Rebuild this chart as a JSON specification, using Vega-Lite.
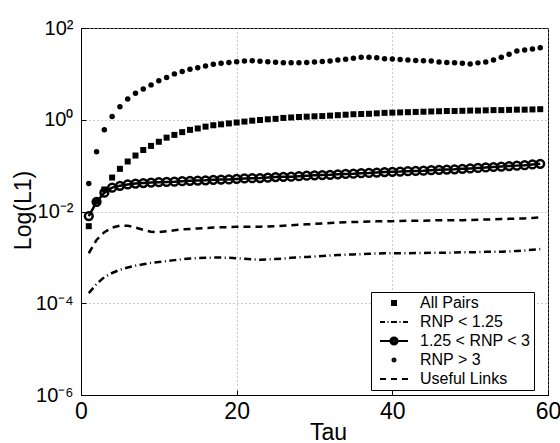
{
  "$schema": "https://vega.github.io/schema/vega-lite/v6.json",
  "width": 467,
  "height": 367,
  "autosize": {"type": "none"},
  "padding": {"left": 81, "top": 28, "right": 12, "bottom": 48},
  "background": "white",
  "config": {
    "view": {"stroke": "black", "strokeWidth": 1},
    "axis": {
      "domainColor": "black", "tickColor": "black", "labelColor": "black", "titleColor": "black",
      "labelFont": "Liberation Sans", "titleFont": "Liberation Sans", "titleFontWeight": "normal",
      "grid": true, "gridColor": "#999999", "gridDash": [1, 3], "tickSize": -5
    }
  },
  "data": {"values": [
    {"tau":1,"series":"All Pairs","log10_L1":-2.32},{"tau":2,"series":"All Pairs","log10_L1":-1.77},{"tau":3,"series":"All Pairs","log10_L1":-1.52},{"tau":4,"series":"All Pairs","log10_L1":-1.26},{"tau":5,"series":"All Pairs","log10_L1":-1.07},{"tau":6,"series":"All Pairs","log10_L1":-0.91},{"tau":7,"series":"All Pairs","log10_L1":-0.78},{"tau":8,"series":"All Pairs","log10_L1":-0.66},{"tau":9,"series":"All Pairs","log10_L1":-0.57},{"tau":10,"series":"All Pairs","log10_L1":-0.48},
    {"tau":11,"series":"All Pairs","log10_L1":-0.39},{"tau":12,"series":"All Pairs","log10_L1":-0.33},{"tau":13,"series":"All Pairs","log10_L1":-0.27},{"tau":14,"series":"All Pairs","log10_L1":-0.22},{"tau":15,"series":"All Pairs","log10_L1":-0.19},{"tau":16,"series":"All Pairs","log10_L1":-0.15},{"tau":17,"series":"All Pairs","log10_L1":-0.12},{"tau":18,"series":"All Pairs","log10_L1":-0.10},{"tau":19,"series":"All Pairs","log10_L1":-0.08},{"tau":20,"series":"All Pairs","log10_L1":-0.06},
    {"tau":21,"series":"All Pairs","log10_L1":-0.04},{"tau":22,"series":"All Pairs","log10_L1":-0.02},{"tau":23,"series":"All Pairs","log10_L1":-0.005},{"tau":24,"series":"All Pairs","log10_L1":0.01},{"tau":25,"series":"All Pairs","log10_L1":0.02},{"tau":26,"series":"All Pairs","log10_L1":0.04},{"tau":27,"series":"All Pairs","log10_L1":0.05},{"tau":28,"series":"All Pairs","log10_L1":0.06},{"tau":29,"series":"All Pairs","log10_L1":0.067},{"tau":30,"series":"All Pairs","log10_L1":0.075},
    {"tau":31,"series":"All Pairs","log10_L1":0.08},{"tau":32,"series":"All Pairs","log10_L1":0.09},{"tau":33,"series":"All Pairs","log10_L1":0.10},{"tau":34,"series":"All Pairs","log10_L1":0.11},{"tau":35,"series":"All Pairs","log10_L1":0.12},{"tau":36,"series":"All Pairs","log10_L1":0.125},{"tau":37,"series":"All Pairs","log10_L1":0.13},{"tau":38,"series":"All Pairs","log10_L1":0.14},{"tau":39,"series":"All Pairs","log10_L1":0.15},{"tau":40,"series":"All Pairs","log10_L1":0.155},
    {"tau":41,"series":"All Pairs","log10_L1":0.16},{"tau":42,"series":"All Pairs","log10_L1":0.165},{"tau":43,"series":"All Pairs","log10_L1":0.17},{"tau":44,"series":"All Pairs","log10_L1":0.175},{"tau":45,"series":"All Pairs","log10_L1":0.18},{"tau":46,"series":"All Pairs","log10_L1":0.185},{"tau":47,"series":"All Pairs","log10_L1":0.19},{"tau":48,"series":"All Pairs","log10_L1":0.19},{"tau":49,"series":"All Pairs","log10_L1":0.195},{"tau":50,"series":"All Pairs","log10_L1":0.20},
    {"tau":51,"series":"All Pairs","log10_L1":0.20},{"tau":52,"series":"All Pairs","log10_L1":0.205},{"tau":53,"series":"All Pairs","log10_L1":0.21},{"tau":54,"series":"All Pairs","log10_L1":0.21},{"tau":55,"series":"All Pairs","log10_L1":0.215},{"tau":56,"series":"All Pairs","log10_L1":0.22},{"tau":57,"series":"All Pairs","log10_L1":0.22},{"tau":58,"series":"All Pairs","log10_L1":0.225},{"tau":59,"series":"All Pairs","log10_L1":0.23},

    {"tau":1,"series":"RNP < 1.25","log10_L1":-3.78},{"tau":2,"series":"RNP < 1.25","log10_L1":-3.58},{"tau":3,"series":"RNP < 1.25","log10_L1":-3.43},{"tau":4,"series":"RNP < 1.25","log10_L1":-3.34},{"tau":5,"series":"RNP < 1.25","log10_L1":-3.27},{"tau":6,"series":"RNP < 1.25","log10_L1":-3.22},{"tau":7,"series":"RNP < 1.25","log10_L1":-3.18},{"tau":8,"series":"RNP < 1.25","log10_L1":-3.15},{"tau":9,"series":"RNP < 1.25","log10_L1":-3.12},{"tau":10,"series":"RNP < 1.25","log10_L1":-3.10},
    {"tau":11,"series":"RNP < 1.25","log10_L1":-3.08},{"tau":12,"series":"RNP < 1.25","log10_L1":-3.06},{"tau":13,"series":"RNP < 1.25","log10_L1":-3.04},{"tau":14,"series":"RNP < 1.25","log10_L1":-3.025},{"tau":15,"series":"RNP < 1.25","log10_L1":-3.015},{"tau":16,"series":"RNP < 1.25","log10_L1":-3.01},{"tau":17,"series":"RNP < 1.25","log10_L1":-3.005},{"tau":18,"series":"RNP < 1.25","log10_L1":-3.005},{"tau":19,"series":"RNP < 1.25","log10_L1":-3.01},{"tau":20,"series":"RNP < 1.25","log10_L1":-3.02},
    {"tau":21,"series":"RNP < 1.25","log10_L1":-3.03},{"tau":22,"series":"RNP < 1.25","log10_L1":-3.045},{"tau":23,"series":"RNP < 1.25","log10_L1":-3.05},{"tau":24,"series":"RNP < 1.25","log10_L1":-3.045},{"tau":25,"series":"RNP < 1.25","log10_L1":-3.035},{"tau":26,"series":"RNP < 1.25","log10_L1":-3.025},{"tau":27,"series":"RNP < 1.25","log10_L1":-3.01},{"tau":28,"series":"RNP < 1.25","log10_L1":-3.0},{"tau":29,"series":"RNP < 1.25","log10_L1":-2.99},{"tau":30,"series":"RNP < 1.25","log10_L1":-2.98},
    {"tau":31,"series":"RNP < 1.25","log10_L1":-2.97},{"tau":32,"series":"RNP < 1.25","log10_L1":-2.96},{"tau":33,"series":"RNP < 1.25","log10_L1":-2.95},{"tau":34,"series":"RNP < 1.25","log10_L1":-2.94},{"tau":35,"series":"RNP < 1.25","log10_L1":-2.935},{"tau":36,"series":"RNP < 1.25","log10_L1":-2.93},{"tau":37,"series":"RNP < 1.25","log10_L1":-2.92},{"tau":38,"series":"RNP < 1.25","log10_L1":-2.915},{"tau":39,"series":"RNP < 1.25","log10_L1":-2.91},{"tau":40,"series":"RNP < 1.25","log10_L1":-2.91},
    {"tau":41,"series":"RNP < 1.25","log10_L1":-2.91},{"tau":42,"series":"RNP < 1.25","log10_L1":-2.91},{"tau":43,"series":"RNP < 1.25","log10_L1":-2.905},{"tau":44,"series":"RNP < 1.25","log10_L1":-2.905},{"tau":45,"series":"RNP < 1.25","log10_L1":-2.90},{"tau":46,"series":"RNP < 1.25","log10_L1":-2.90},{"tau":47,"series":"RNP < 1.25","log10_L1":-2.90},{"tau":48,"series":"RNP < 1.25","log10_L1":-2.895},{"tau":49,"series":"RNP < 1.25","log10_L1":-2.89},{"tau":50,"series":"RNP < 1.25","log10_L1":-2.89},
    {"tau":51,"series":"RNP < 1.25","log10_L1":-2.885},{"tau":52,"series":"RNP < 1.25","log10_L1":-2.88},{"tau":53,"series":"RNP < 1.25","log10_L1":-2.88},{"tau":54,"series":"RNP < 1.25","log10_L1":-2.875},{"tau":55,"series":"RNP < 1.25","log10_L1":-2.87},{"tau":56,"series":"RNP < 1.25","log10_L1":-2.86},{"tau":57,"series":"RNP < 1.25","log10_L1":-2.85},{"tau":58,"series":"RNP < 1.25","log10_L1":-2.835},{"tau":59,"series":"RNP < 1.25","log10_L1":-2.82},

    {"tau":1,"series":"1.25 < RNP < 3","log10_L1":-2.10},{"tau":2,"series":"1.25 < RNP < 3","log10_L1":-1.79},{"tau":3,"series":"1.25 < RNP < 3","log10_L1":-1.59},{"tau":4,"series":"1.25 < RNP < 3","log10_L1":-1.48},{"tau":5,"series":"1.25 < RNP < 3","log10_L1":-1.44},{"tau":6,"series":"1.25 < RNP < 3","log10_L1":-1.41},{"tau":7,"series":"1.25 < RNP < 3","log10_L1":-1.39},{"tau":8,"series":"1.25 < RNP < 3","log10_L1":-1.38},{"tau":9,"series":"1.25 < RNP < 3","log10_L1":-1.37},{"tau":10,"series":"1.25 < RNP < 3","log10_L1":-1.36},
    {"tau":11,"series":"1.25 < RNP < 3","log10_L1":-1.355},{"tau":12,"series":"1.25 < RNP < 3","log10_L1":-1.35},{"tau":13,"series":"1.25 < RNP < 3","log10_L1":-1.34},{"tau":14,"series":"1.25 < RNP < 3","log10_L1":-1.33},{"tau":15,"series":"1.25 < RNP < 3","log10_L1":-1.325},{"tau":16,"series":"1.25 < RNP < 3","log10_L1":-1.32},{"tau":17,"series":"1.25 < RNP < 3","log10_L1":-1.31},{"tau":18,"series":"1.25 < RNP < 3","log10_L1":-1.305},{"tau":19,"series":"1.25 < RNP < 3","log10_L1":-1.30},{"tau":20,"series":"1.25 < RNP < 3","log10_L1":-1.29},
    {"tau":21,"series":"1.25 < RNP < 3","log10_L1":-1.28},{"tau":22,"series":"1.25 < RNP < 3","log10_L1":-1.275},{"tau":23,"series":"1.25 < RNP < 3","log10_L1":-1.27},{"tau":24,"series":"1.25 < RNP < 3","log10_L1":-1.26},{"tau":25,"series":"1.25 < RNP < 3","log10_L1":-1.25},{"tau":26,"series":"1.25 < RNP < 3","log10_L1":-1.245},{"tau":27,"series":"1.25 < RNP < 3","log10_L1":-1.24},{"tau":28,"series":"1.25 < RNP < 3","log10_L1":-1.23},{"tau":29,"series":"1.25 < RNP < 3","log10_L1":-1.22},{"tau":30,"series":"1.25 < RNP < 3","log10_L1":-1.21},
    {"tau":31,"series":"1.25 < RNP < 3","log10_L1":-1.205},{"tau":32,"series":"1.25 < RNP < 3","log10_L1":-1.20},{"tau":33,"series":"1.25 < RNP < 3","log10_L1":-1.19},{"tau":34,"series":"1.25 < RNP < 3","log10_L1":-1.18},{"tau":35,"series":"1.25 < RNP < 3","log10_L1":-1.175},{"tau":36,"series":"1.25 < RNP < 3","log10_L1":-1.165},{"tau":37,"series":"1.25 < RNP < 3","log10_L1":-1.16},{"tau":38,"series":"1.25 < RNP < 3","log10_L1":-1.15},{"tau":39,"series":"1.25 < RNP < 3","log10_L1":-1.14},{"tau":40,"series":"1.25 < RNP < 3","log10_L1":-1.135},
    {"tau":41,"series":"1.25 < RNP < 3","log10_L1":-1.13},{"tau":42,"series":"1.25 < RNP < 3","log10_L1":-1.12},{"tau":43,"series":"1.25 < RNP < 3","log10_L1":-1.115},{"tau":44,"series":"1.25 < RNP < 3","log10_L1":-1.11},{"tau":45,"series":"1.25 < RNP < 3","log10_L1":-1.10},{"tau":46,"series":"1.25 < RNP < 3","log10_L1":-1.09},{"tau":47,"series":"1.25 < RNP < 3","log10_L1":-1.085},{"tau":48,"series":"1.25 < RNP < 3","log10_L1":-1.08},{"tau":49,"series":"1.25 < RNP < 3","log10_L1":-1.07},{"tau":50,"series":"1.25 < RNP < 3","log10_L1":-1.06},
    {"tau":51,"series":"1.25 < RNP < 3","log10_L1":-1.05},{"tau":52,"series":"1.25 < RNP < 3","log10_L1":-1.04},{"tau":53,"series":"1.25 < RNP < 3","log10_L1":-1.03},{"tau":54,"series":"1.25 < RNP < 3","log10_L1":-1.02},{"tau":55,"series":"1.25 < RNP < 3","log10_L1":-1.01},{"tau":56,"series":"1.25 < RNP < 3","log10_L1":-1.00},{"tau":57,"series":"1.25 < RNP < 3","log10_L1":-0.99},{"tau":58,"series":"1.25 < RNP < 3","log10_L1":-0.975},{"tau":59,"series":"1.25 < RNP < 3","log10_L1":-0.96},

    {"tau":1,"series":"RNP > 3","log10_L1":-1.39},{"tau":2,"series":"RNP > 3","log10_L1":-0.70},{"tau":3,"series":"RNP > 3","log10_L1":-0.22},{"tau":4,"series":"RNP > 3","log10_L1":0.07},{"tau":5,"series":"RNP > 3","log10_L1":0.285},{"tau":6,"series":"RNP > 3","log10_L1":0.45},{"tau":7,"series":"RNP > 3","log10_L1":0.58},{"tau":8,"series":"RNP > 3","log10_L1":0.67},{"tau":9,"series":"RNP > 3","log10_L1":0.76},{"tau":10,"series":"RNP > 3","log10_L1":0.85},
    {"tau":11,"series":"RNP > 3","log10_L1":0.92},{"tau":12,"series":"RNP > 3","log10_L1":1.00},{"tau":13,"series":"RNP > 3","log10_L1":1.05},{"tau":14,"series":"RNP > 3","log10_L1":1.10},{"tau":15,"series":"RNP > 3","log10_L1":1.135},{"tau":16,"series":"RNP > 3","log10_L1":1.17},{"tau":17,"series":"RNP > 3","log10_L1":1.21},{"tau":18,"series":"RNP > 3","log10_L1":1.23},{"tau":19,"series":"RNP > 3","log10_L1":1.25},{"tau":20,"series":"RNP > 3","log10_L1":1.266},
    {"tau":21,"series":"RNP > 3","log10_L1":1.28},{"tau":22,"series":"RNP > 3","log10_L1":1.288},{"tau":23,"series":"RNP > 3","log10_L1":1.273},{"tau":24,"series":"RNP > 3","log10_L1":1.266},{"tau":25,"series":"RNP > 3","log10_L1":1.251},{"tau":26,"series":"RNP > 3","log10_L1":1.244},{"tau":27,"series":"RNP > 3","log10_L1":1.244},{"tau":28,"series":"RNP > 3","log10_L1":1.244},{"tau":29,"series":"RNP > 3","log10_L1":1.25},{"tau":30,"series":"RNP > 3","log10_L1":1.26},
    {"tau":31,"series":"RNP > 3","log10_L1":1.27},{"tau":32,"series":"RNP > 3","log10_L1":1.28},{"tau":33,"series":"RNP > 3","log10_L1":1.30},{"tau":34,"series":"RNP > 3","log10_L1":1.32},{"tau":35,"series":"RNP > 3","log10_L1":1.34},{"tau":36,"series":"RNP > 3","log10_L1":1.36},{"tau":37,"series":"RNP > 3","log10_L1":1.36},{"tau":38,"series":"RNP > 3","log10_L1":1.35},{"tau":39,"series":"RNP > 3","log10_L1":1.33},{"tau":40,"series":"RNP > 3","log10_L1":1.325},
    {"tau":41,"series":"RNP > 3","log10_L1":1.315},{"tau":42,"series":"RNP > 3","log10_L1":1.30},{"tau":43,"series":"RNP > 3","log10_L1":1.29},{"tau":44,"series":"RNP > 3","log10_L1":1.288},{"tau":45,"series":"RNP > 3","log10_L1":1.28},{"tau":46,"series":"RNP > 3","log10_L1":1.26},{"tau":47,"series":"RNP > 3","log10_L1":1.25},{"tau":48,"series":"RNP > 3","log10_L1":1.244},{"tau":49,"series":"RNP > 3","log10_L1":1.23},{"tau":50,"series":"RNP > 3","log10_L1":1.215},
    {"tau":51,"series":"RNP > 3","log10_L1":1.24},{"tau":52,"series":"RNP > 3","log10_L1":1.26},{"tau":53,"series":"RNP > 3","log10_L1":1.30},{"tau":54,"series":"RNP > 3","log10_L1":1.36},{"tau":55,"series":"RNP > 3","log10_L1":1.43},{"tau":56,"series":"RNP > 3","log10_L1":1.50},{"tau":57,"series":"RNP > 3","log10_L1":1.52},{"tau":58,"series":"RNP > 3","log10_L1":1.54},{"tau":59,"series":"RNP > 3","log10_L1":1.57},

    {"tau":1,"series":"Useful Links","log10_L1":-2.91},{"tau":2,"series":"Useful Links","log10_L1":-2.62},{"tau":3,"series":"Useful Links","log10_L1":-2.45},{"tau":4,"series":"Useful Links","log10_L1":-2.35},{"tau":5,"series":"Useful Links","log10_L1":-2.31},{"tau":6,"series":"Useful Links","log10_L1":-2.31},{"tau":7,"series":"Useful Links","log10_L1":-2.35},{"tau":8,"series":"Useful Links","log10_L1":-2.40},{"tau":9,"series":"Useful Links","log10_L1":-2.44},{"tau":10,"series":"Useful Links","log10_L1":-2.45},
    {"tau":11,"series":"Useful Links","log10_L1":-2.43},{"tau":12,"series":"Useful Links","log10_L1":-2.41},{"tau":13,"series":"Useful Links","log10_L1":-2.39},{"tau":14,"series":"Useful Links","log10_L1":-2.38},{"tau":15,"series":"Useful Links","log10_L1":-2.37},{"tau":16,"series":"Useful Links","log10_L1":-2.36},{"tau":17,"series":"Useful Links","log10_L1":-2.35},{"tau":18,"series":"Useful Links","log10_L1":-2.345},{"tau":19,"series":"Useful Links","log10_L1":-2.34},{"tau":20,"series":"Useful Links","log10_L1":-2.335},
    {"tau":21,"series":"Useful Links","log10_L1":-2.33},{"tau":22,"series":"Useful Links","log10_L1":-2.33},{"tau":23,"series":"Useful Links","log10_L1":-2.33},{"tau":24,"series":"Useful Links","log10_L1":-2.325},{"tau":25,"series":"Useful Links","log10_L1":-2.32},{"tau":26,"series":"Useful Links","log10_L1":-2.31},{"tau":27,"series":"Useful Links","log10_L1":-2.30},{"tau":28,"series":"Useful Links","log10_L1":-2.29},{"tau":29,"series":"Useful Links","log10_L1":-2.28},{"tau":30,"series":"Useful Links","log10_L1":-2.27},
    {"tau":31,"series":"Useful Links","log10_L1":-2.26},{"tau":32,"series":"Useful Links","log10_L1":-2.25},{"tau":33,"series":"Useful Links","log10_L1":-2.24},{"tau":34,"series":"Useful Links","log10_L1":-2.235},{"tau":35,"series":"Useful Links","log10_L1":-2.23},{"tau":36,"series":"Useful Links","log10_L1":-2.225},{"tau":37,"series":"Useful Links","log10_L1":-2.22},{"tau":38,"series":"Useful Links","log10_L1":-2.215},{"tau":39,"series":"Useful Links","log10_L1":-2.21},{"tau":40,"series":"Useful Links","log10_L1":-2.21},
    {"tau":41,"series":"Useful Links","log10_L1":-2.205},{"tau":42,"series":"Useful Links","log10_L1":-2.20},{"tau":43,"series":"Useful Links","log10_L1":-2.20},{"tau":44,"series":"Useful Links","log10_L1":-2.20},{"tau":45,"series":"Useful Links","log10_L1":-2.195},{"tau":46,"series":"Useful Links","log10_L1":-2.19},{"tau":47,"series":"Useful Links","log10_L1":-2.19},{"tau":48,"series":"Useful Links","log10_L1":-2.19},{"tau":49,"series":"Useful Links","log10_L1":-2.19},{"tau":50,"series":"Useful Links","log10_L1":-2.185},
    {"tau":51,"series":"Useful Links","log10_L1":-2.18},{"tau":52,"series":"Useful Links","log10_L1":-2.175},{"tau":53,"series":"Useful Links","log10_L1":-2.17},{"tau":54,"series":"Useful Links","log10_L1":-2.165},{"tau":55,"series":"Useful Links","log10_L1":-2.16},{"tau":56,"series":"Useful Links","log10_L1":-2.155},{"tau":57,"series":"Useful Links","log10_L1":-2.15},{"tau":58,"series":"Useful Links","log10_L1":-2.14},{"tau":59,"series":"Useful Links","log10_L1":-2.13}
  ]},
  "encoding": {
    "x": {"field": "tau", "type": "quantitative",
      "scale": {"domain": [0, 60], "nice": false, "zero": false},
      "axis": {"values": [0, 20, 40, 60], "labelFontSize": 23, "labelPadding": 10, "labelFlush": false,
        "title": "Tau", "titleFontSize": 23, "titleX": 247, "titleY": 44, "titleAlign": "center", "titleBaseline": "alphabetic"}},
    "y": {"field": "log10_L1", "type": "quantitative",
      "scale": {"domain": [-6, 2], "nice": false, "zero": false},
      "axis": {"values": [-6, -4, -2, 0, 2], "labelFontSize": 20, "labelPadding": 13, "labelBaseline": "middle", "labelFlush": false,
        "labelExpr": "datum.value == 2 ? '10²' : datum.value == 0 ? '10⁰' : datum.value == -2 ? '10⁻²' : datum.value == -4 ? '10⁻⁴' : '10⁻⁶'",
        "title": "Log(L1)", "titleFontSize": 23, "titleX": -51, "titleY": 182, "titleAngle": -90, "titleAlign": "center", "titleBaseline": "alphabetic"}}
  },
  "layer": [
    {"transform": [{"filter": "datum.series == 'Useful Links'"}],
     "mark": {"type": "line", "color": "black", "strokeWidth": 2.5, "strokeDash": [7, 5]}},
    {"transform": [{"filter": "datum.series == 'RNP < 1.25'"}],
     "mark": {"type": "line", "color": "black", "strokeWidth": 2.5, "strokeDash": [7, 3.5, 1, 3.5]}},
    {"transform": [{"filter": "datum.series == '1.25 < RNP < 3'"}],
     "mark": {"type": "line", "color": "black", "strokeWidth": 2.5}},
    {"transform": [{"filter": "datum.series == '1.25 < RNP < 3'"}],
     "mark": {"type": "point", "shape": "circle", "filled": false, "stroke": "black", "strokeWidth": 2.5, "size": 60, "opacity": 1}},
    {"transform": [{"filter": "datum.series == 'All Pairs'"}],
     "mark": {"type": "point", "shape": "square", "filled": true, "fill": "black", "size": 36, "opacity": 1}},
    {"transform": [{"filter": "datum.series == 'RNP > 3'"}],
     "mark": {"type": "point", "shape": "circle", "filled": true, "fill": "black", "size": 30, "opacity": 1}},
    {"transform": [{"filter": "datum.tau == 1"}],
     "mark": {"type": "point", "opacity": 0, "filled": false},
     "encoding": {
       "shape": {"field": "series", "type": "nominal",
         "scale": {"domain": ["All Pairs", "RNP < 1.25", "1.25 < RNP < 3", "RNP > 3", "Useful Links"],
           "range": [
             "M-0.5,-0.33H0.5M-0.5,0H0.5M-0.5,0.33H0.5",
             "M-2.333,0H-1.5M-1.083,0H-0.917M-0.5,0H0.5M0.917,0H1.083M1.5,0H2.333",
             "M-2.333,0H-0.6M0.6,0H2.333M-0.6,0A0.6,0.6 0 1,0 0.6,0A0.6,0.6 0 1,0 -0.6,0M-0.33,0A0.33,0.33 0 1,0 0.33,0A0.33,0.33 0 1,0 -0.33,0M-0.1,0A0.1,0.1 0 1,0 0.1,0A0.1,0.1 0 1,0 -0.1,0",
             "M-0.25,0A0.25,0.25 0 1,0 0.25,0A0.25,0.25 0 1,0 -0.25,0",
             "M-2.333,0H-1.333M-0.5,0H0.5M1.333,0H2.333"
           ]},
         "legend": {"orient": "none", "legendX": 290, "legendY": 264, "title": null,
           "strokeColor": "black", "fillColor": "white", "padding": 3,
           "labelFont": "Liberation Sans", "labelFontSize": 16, "labelColor": "black",
           "symbolSize": 144, "symbolOffset": 12, "labelOffset": 18, "rowPadding": 3,
           "symbolStrokeWidth": 2, "symbolStrokeColor": "black"}},
       "stroke": {"field": "series", "type": "nominal",
         "scale": {"domain": ["All Pairs", "RNP < 1.25", "1.25 < RNP < 3", "RNP > 3", "Useful Links"],
           "range": ["black", "black", "black", "black", "black"]}}
     }}
  ]
}
